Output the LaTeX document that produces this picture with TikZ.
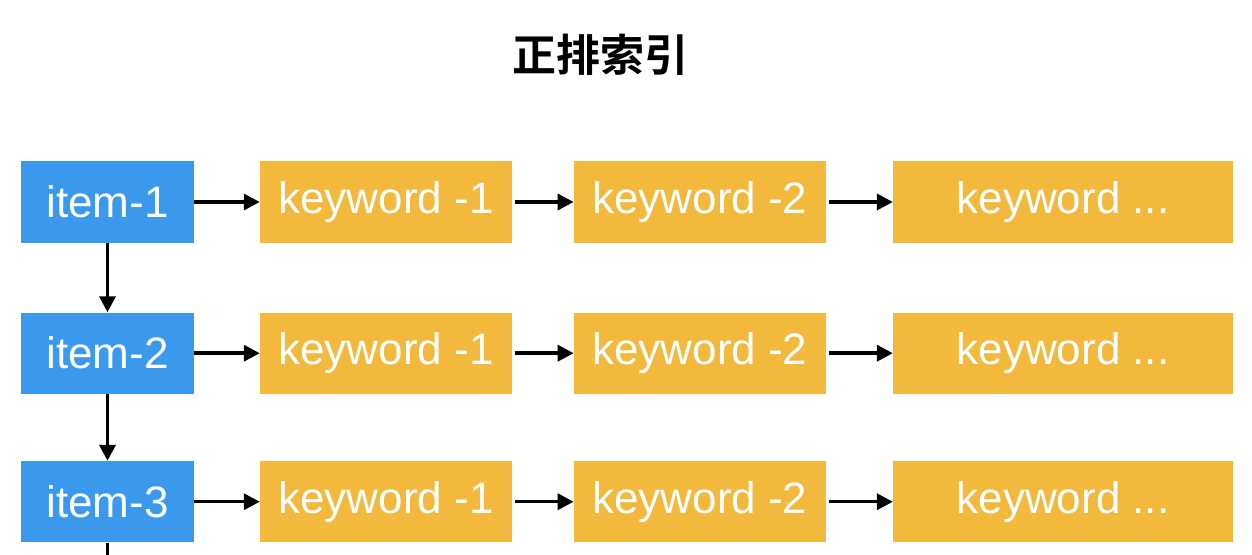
\documentclass[tikz,border=0pt]{standalone}
\usepackage{fontspec}
\setmainfont{Liberation Sans}
\newfontfamily\cjk{Noto Sans CJK SC}[BoldFont={Noto Sans CJK SC Bold}]
\usetikzlibrary{positioning}
\usetikzlibrary{arrows.meta}
\definecolor{itemblue}{RGB}{58,153,236}
\definecolor{keyorange}{RGB}{242,185,60}
\tikzset{itembox/.style={fill=itemblue, text=white, minimum width=130pt, minimum height=61pt, inner sep=0pt, font=\fontsize{33}{36}\selectfont},
keybox/.style={fill=keyorange, text=white, minimum width=189pt, minimum height=61pt, inner sep=0pt, font=\fontsize{33}{36}\selectfont},
link/.style={line width=2.6pt, -{Triangle[length=12pt,width=12pt]}}}

\begin{document}
\begin{tikzpicture}[x=0.75pt, y=-0.75pt, node distance=52pt and 48pt]
\useasboundingbox (0,0) rectangle (1252,554);
\node[font=\cjk\bfseries\fontsize{33}{36}\selectfont] (title) at (600,55) {正排索引};

\node[itembox] (item1) at (107.5,202) {item-1};
\node[itembox, below=of item1] (item2) {item-2};
\node[itembox, below=50pt of item2] (item3) {item-3};
\coordinate[below=9pt of item3] (tail);

\foreach \r in {1,2,3}{
\node[keybox, right=49pt of item\r] (kwa\r) {keyword -1};
\node[keybox, right=46pt of kwa\r] (kwb\r) {keyword -2};
\node[keybox, minimum width=255pt, right=50pt of kwb\r] (kwc\r) {keyword ...};
\draw[link] (item\r) -- (kwa\r);
\draw[link, shorten <=2pt] (kwa\r) -- (kwb\r);
\draw[link, shorten <=2pt] (kwb\r) -- (kwc\r);
}

\draw[link] (item1) -- (item2);
\draw[link] (item2) -- (item3);
\draw[line width=2.6pt] (item3) -- (tail);
\end{tikzpicture}
\end{document}
